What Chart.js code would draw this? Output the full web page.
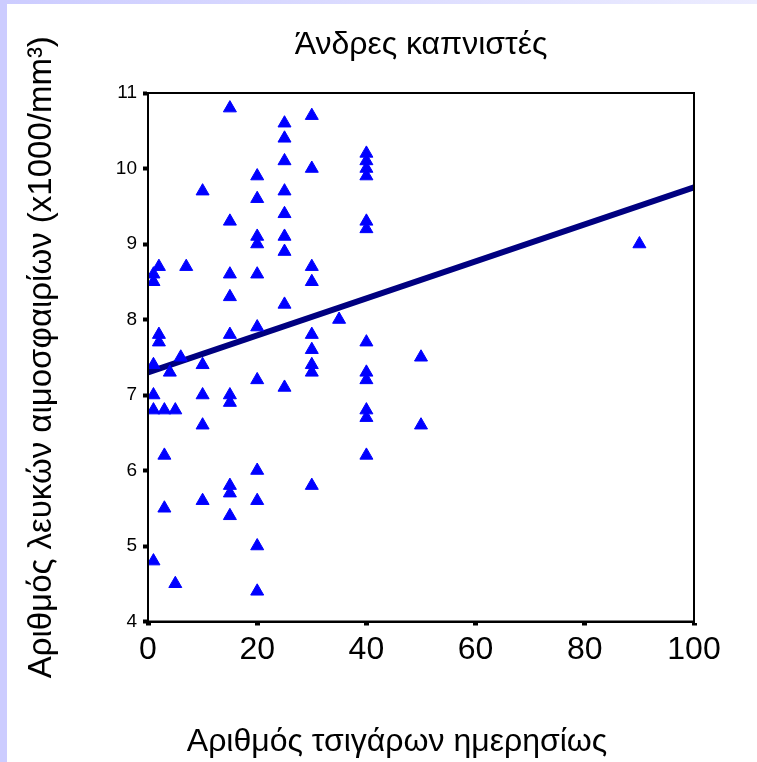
<!DOCTYPE html>
<html lang="el">
<head>
<meta charset="utf-8">
<title>Άνδρες καπνιστές</title>
<script src="https://cdn.jsdelivr.net/npm/chart.js@4/dist/chart.umd.min.js"></script>
<style>
    html, body { margin: 0; padding: 0; background: #fff; }
    #wrap { position: relative; width: 757px; height: 762px; overflow: hidden; }
    #wrap canvas { position: absolute; left: 0; top: 0; }
    .edge-top { position: absolute; left: 0; top: 0; width: 757px; height: 4px;
        background: linear-gradient(to right, #ccccff, #ececff); }
    .edge-left { position: absolute; left: 0; top: 0; width: 7px; height: 762px; background: #ccccff; }
</style>
</head>
<body>
<div id="wrap">
    <canvas id="chart" width="757" height="762"></canvas>
    <div class="edge-top"></div>
    <div class="edge-left"></div>
</div>
<script>
// cigarettes smoked per day, one entry per man
const cigarettes = [
    1, 1, 1, 1, 1, 1,
    2, 2, 2,
    3, 3, 3,
    4,
    5, 5,
    6,
    7,
    10, 10, 10, 10, 10,
    15, 15, 15, 15, 15, 15, 15, 15, 15, 15,
    20, 20, 20, 20, 20, 20, 20, 20, 20, 20, 20,
    25, 25, 25, 25, 25, 25, 25, 25, 25,
    30, 30, 30, 30, 30, 30, 30, 30, 30,
    35,
    40, 40, 40, 40, 40, 40, 40, 40, 40, 40, 40, 40,
    50, 50,
    90
];
// white cell count (x1000/mm3), same order as above
const whiteCells = [
    8.6, 8.5, 7.4, 7.0, 6.8, 4.8,
    8.7, 7.8, 7.7,
    6.8, 6.2, 5.5,
    7.3,
    6.8, 4.5,
    7.5,
    8.7,
    9.7, 7.4, 7.0, 6.6, 5.6,
    10.8, 9.3, 8.6, 8.3, 7.8, 7.0, 6.9, 5.8, 5.7, 5.4,
    9.9, 9.6, 9.1, 9.0, 8.6, 7.9, 7.2, 6.0, 5.6, 5.0, 4.4,
    10.6, 10.4, 10.1, 9.7, 9.4, 9.1, 8.9, 8.2, 7.1,
    10.7, 10.0, 8.7, 8.5, 7.8, 7.6, 7.4, 7.3, 5.8,
    8.0,
    10.2, 10.1, 10.0, 9.9, 9.3, 9.2, 7.7, 7.3, 7.2, 6.8, 6.7, 6.2,
    7.5, 6.6,
    9.0
];
// least squares line, ends at the axis limits
const fitX = [0, 100];
const fitY = [7.30, 9.75];

const xTicks = [0, 20, 40, 60, 80, 100];
const yTicks = [4, 5, 6, 7, 8, 9, 10, 11];

const chartTitle = 'Άνδρες καπνιστές';
const xTitle = 'Αριθμός τσιγάρων ημερησίως';
const yTitle = 'Αριθμός λευκών αιμοσφαιρίων (x1000/mm³)';

const FONT = 'Arial, "Liberation Sans", sans-serif';

// full frame around the plot area (top and right sides have no axis)
const frameBox = {
    id: 'frameBox',
    afterDatasetsDraw(chart) {
        const { ctx, chartArea: a } = chart;
        ctx.save();
        ctx.strokeStyle = '#000';
        ctx.lineWidth = 2;
        ctx.strokeRect(a.left, a.top, a.right - a.left, a.bottom - a.top);
        ctx.restore();
    }
};

// x axis caption sits a little left of the plot centre, so it is drawn here
const xCaption = {
    id: 'xCaption',
    afterDraw(chart) {
        const { ctx, chartArea: a } = chart;
        ctx.save();
        ctx.fillStyle = '#000';
        ctx.font = '32px ' + FONT;
        ctx.textAlign = 'center';
        ctx.textBaseline = 'middle';
        ctx.fillText(xTitle, (a.left + a.right) / 2 - 24, 742);
        ctx.restore();
    }
};

const points = cigarettes.map((c, i) => ({ x: c, y: whiteCells[i] }));
const fitLine = fitX.map((x, i) => ({ x, y: fitY[i] }));

new Chart(document.getElementById('chart'), {
    type: 'scatter',
    data: {
        datasets: [
            {
                data: points,
                pointStyle: 'triangle',
                pointRadius: 7.5,
                borderWidth: 1,
                backgroundColor: '#0000ff',
                borderColor: '#0000ff',
                order: 1
            },
            {
                type: 'line',
                data: fitLine,
                borderColor: '#000080',
                borderWidth: 6,
                pointRadius: 0,
                fill: false,
                clip: 0,
                order: 2
            }
        ]
    },
    options: {
        responsive: false,
        animation: false,
        events: [],
        layout: { padding: { top: 0, right: 63, bottom: 0, left: 0 } },
        plugins: {
            legend: { display: false },
            tooltip: { enabled: false },
            title: {
                display: true,
                text: chartTitle,
                fullSize: false,
                color: '#000',
                font: { family: FONT, size: 32, weight: 'normal', lineHeight: 1.2 },
                padding: { top: 26, bottom: 28.6 }
            }
        },
        scales: {
            x: {
                type: 'linear',
                min: 0,
                max: 100,
                afterFit(scale) { scale.height = 140.5; },
                afterBuildTicks(scale) { scale.ticks = xTicks.map(v => ({ value: v })); },
                border: { display: true, color: '#000', width: 2 },
                grid: { drawOnChartArea: false, drawTicks: true, tickLength: 4, tickWidth: 5, tickColor: '#000' },
                ticks: { color: '#000', padding: 5, font: { family: FONT, size: 32 } }
            },
            y: {
                type: 'linear',
                min: 4,
                max: 11,
                afterFit(scale) { scale.width = 148; },
                afterBuildTicks(scale) { scale.ticks = yTicks.map(v => ({ value: v })); },
                border: { display: true, color: '#000', width: 2 },
                grid: { drawOnChartArea: false, drawTicks: true, tickLength: 5, tickWidth: 4, tickColor: '#000' },
                ticks: { color: '#000', padding: 6, font: { family: FONT, size: 19 } },
                title: {
                    display: true,
                    text: yTitle,
                    color: '#000',
                    font: { family: FONT, size: 33, lineHeight: 1.2 },
                    padding: { top: 22, bottom: 0 }
                }
            }
        }
    },
    plugins: [frameBox, xCaption]
});
</script>
</body>
</html>
